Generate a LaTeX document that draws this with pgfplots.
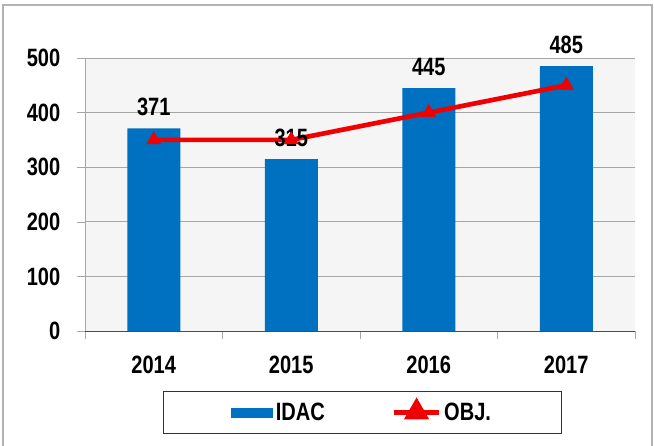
\documentclass[border=0pt]{standalone}
\usepackage{fontspec}
\setmainfont{Liberation Sans}[FakeStretch=0.8]
\usepackage{pgfplots}
\pgfplotsset{compat=1.18}
\definecolor{barblue}{HTML}{0070C0}
\definecolor{linered}{HTML}{F00000}

\begin{document}
\begin{tikzpicture}
\useasboundingbox (0,0) rectangle (490.5pt,334.5pt);
% outer chart frame
\draw[gray!60, line width=0.8pt] (2.25pt,-10pt) rectangle (489pt,330.75pt);

\begin{axis}[
    at={(63.75pt,86.25pt)}, anchor=south west,
    scale only axis,
    width=412.5pt, height=204.75pt,
    xmin=-0.5, xmax=3.5,
    ymin=0, ymax=500,
    xtick={0,1,2,3},
    xticklabels={2014,2015,2016,2017},
    minor xtick={-0.5,0.5,1.5,2.5,3.5},
    ytick={0,100,200,300,400,500},
    axis x line*=bottom,
    axis y line*=left,
    x axis line style={draw=black!70, line width=0.7pt},
    y axis line style={draw=gray!70, line width=0.7pt},
    tick align=outside,
    major x tick style={draw=none},
    minor x tick style={draw=gray!70},
    minor tick length=6pt,
    ytick style={draw=gray!70},
    major tick length=6pt,
    ymajorgrids,
    grid style={gray!70, line width=0.6pt},
    axis background/.style={fill=black!4},
    tick label style={font=\fontsize{18.8}{20}\selectfont\bfseries},
    /pgf/number format/assume math mode=true,
    yticklabel style={xshift=-9pt},
    xticklabel style={yshift=-9pt},
    legend columns=2,
    legend style={
        at={(0.5045,-0.2985)}, anchor=center,
        draw=black!80, line width=0.8pt,
        font=\fontsize{18.8}{20}\selectfont\bfseries,
        inner xsep=51pt, inner ysep=6pt,
        /tikz/every even column/.append style={column sep=48pt},
    },
]
\addplot[
    ybar, bar width=39.75pt, fill=barblue, draw=none,
    nodes near coords,
    every node near coord/.append style={
        font=\fontsize{18.8}{20}\selectfont\bfseries, black, yshift=6pt},
    legend image code/.code={\fill[barblue] (0pt,-3.75pt) rectangle (31.5pt,3.75pt);},
] coordinates {(0,371) (1,315) (2,445) (3,485)};
\addlegendentry{IDAC}

\addplot[
    color=linered, line width=3.5pt,
    mark=triangle*, mark size=6pt,
    mark options={solid, line width=0.5pt, fill=linered},
    legend image code/.code={
        \draw[linered, line width=3.5pt] (0pt,0pt) -- (34pt,0pt);
        \fill[linered] (17pt,0pt) ++(90:8pt) -- ++(-120:13pt) -- ++(0:13pt) -- cycle;
    },
] coordinates {(0,350) (1,350) (2,400) (3,450)};
\addlegendentry{OBJ.}
\end{axis}
\end{tikzpicture}
\end{document}
